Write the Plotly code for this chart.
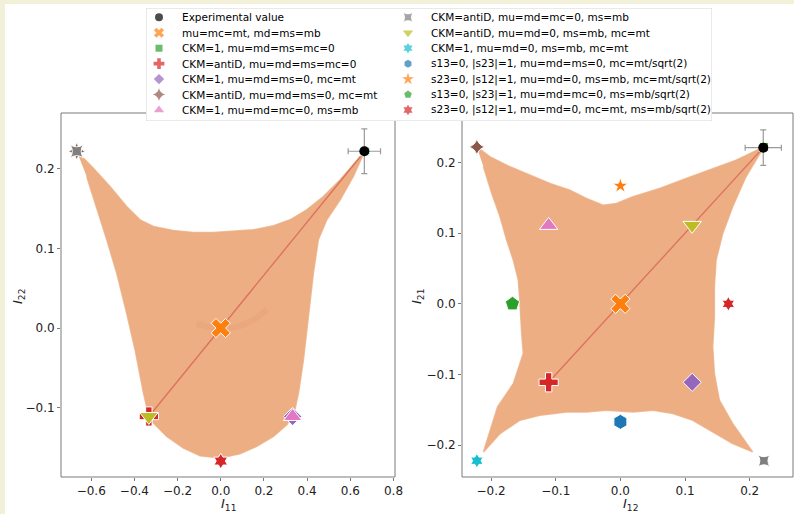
import plotly.graph_objects as go

# ---------------- data ----------------
NAMES = [
    "Experimental value",
    "mu=mc=mt, md=ms=mb",
    "CKM=1, mu=md=ms=mc=0",
    "CKM=antiD, mu=md=ms=mc=0",
    "CKM=1, mu=md=ms=0, mc=mt",
    "CKM=antiD, mu=md=ms=0, mc=mt",
    "CKM=1, mu=md=mc=0, ms=mb",
    "CKM=antiD, mu=md=mc=0, ms=mb",
    "CKM=antiD, mu=md=0, ms=mb, mc=mt",
    "CKM=1, mu=md=0, ms=mb, mc=mt",
    "s13=0, |s23|=1, mu=md=ms=0, mc=mt/sqrt(2)",
    "s23=0, |s12|=1, mu=md=0, ms=mb, mc=mt/sqrt(2)",
    "s13=0, |s23|=1, mu=md=mc=0, ms=mb/sqrt(2)",
    "s23=0, |s12|=1, mu=md=0, mc=mt, ms=mb/sqrt(2)",
]
COLORS = ["#000000", "#ff7f0e", "#2ca02c", "#d62728", "#9467bd", "#8c564b", "#e377c2",
          "#7f7f7f", "#bcbd22", "#17becf", "#1f77b4", "#ff7f0e", "#2ca02c", "#d62728"]
SYMBOLS = ["circle", "x", "square", "cross", "diamond", "star-diamond", "triangle-up",
           "star-square", "triangle-down", "hexagram", "hexagon", "star", "pentagon", "hexagram"]
SIZES_L = [10, 17, 9, 16, 14, 13, 16, 12, 16, 10, 9, 9, 10, 12]
SIZES_R = [10, 17, 9, 16, 14, 12, 16, 11, 16, 11, 15, 12, 15, 11]

# marker positions: left panel (I11, I22), right panel (I12, I21)
I11 = [0.665, 0.0, 0.667, -0.333, 0.333, -0.667, 0.333, -0.667, -0.333, 0.667, 0.0, 0.0, 0.0, 0.0]
I22 = [0.222, 0.0, 0.222, -0.111, -0.111, 0.222, -0.111, 0.222, -0.111, 0.222, -0.167, -0.167, -0.167, -0.167]
I12 = [0.221, 0.0, 0.222, -0.111, 0.111, -0.222, -0.111, 0.222, 0.111, -0.222, 0.0, 0.0, -0.167, 0.167]
I21 = [0.221, 0.0, 0.222, -0.111, -0.111, 0.222, 0.111, -0.222, 0.111, -0.222, -0.167, 0.167, 0.0, 0.0]

EXP_ERR_I11, EXP_ERR_I22 = 0.075, 0.028
EXP_ERR_I12, EXP_ERR_I21 = 0.028, 0.025

# outline of the scanned region (scatter cloud), left panel
CLOUD_L_X = [-0.667, -0.590, -0.513, -0.436, -0.374, -0.312, -0.219, -0.127, -0.034, 0.059, 0.151,
             0.244, 0.321, 0.398, 0.475, 0.553, 0.614, 0.667, 0.614, 0.553, 0.491, 0.452, 0.429,
             0.406, 0.383, 0.360, 0.340, 0.306, 0.244, 0.167, 0.089, -0.003, -0.096, -0.173,
             -0.250, -0.312, -0.335, -0.358, -0.397, -0.436, -0.482, -0.528, -0.575, -0.621]
CLOUD_L_Y = [0.222, 0.2007, 0.1777, 0.1526, 0.1359, 0.1275, 0.1225, 0.1200, 0.1200, 0.1212, 0.1233,
             0.1284, 0.1359, 0.1485, 0.1652, 0.1861, 0.2049, 0.222, 0.1903, 0.161, 0.1359, 0.1108,
             0.069, 0.0146, -0.0397, -0.0816, -0.1067, -0.1214, -0.136, -0.1485, -0.1577, -0.1631,
             -0.1602, -0.1506, -0.136, -0.1192, -0.1088, -0.0816, -0.0272, 0.0188, 0.069, 0.1108,
             0.1526, 0.1903]
# outline of the scanned region, right panel
CLOUD_R_X = [-0.222, -0.2015, -0.1707, -0.1399, -0.109, -0.0782, -0.0525, -0.0268, -0.0062, 0.0195,
             0.0606, 0.1017, 0.1428, 0.1788, 0.222, 0.1942, 0.1737, 0.1583, 0.148, 0.1454, 0.1454,
             0.1428, 0.1454, 0.1531, 0.1737, 0.2045, 0.1737, 0.148, 0.112, 0.0812, 0.0503, 0.0195,
             -0.0216, -0.0525, -0.0833, -0.1244, -0.1553, -0.1861, -0.2118, -0.1900, -0.1656,
             -0.1502, -0.1527, -0.1553, -0.1579, -0.1656, -0.1759, -0.1861, -0.1989, -0.2118]
CLOUD_R_Y = [0.222, 0.208, 0.1939, 0.1821, 0.1703, 0.1609, 0.149, 0.1396, 0.142, 0.1514, 0.1632,
             0.1774, 0.1915, 0.2033, 0.222, 0.1797, 0.1373, 0.0996, 0.0618, 0.0241, -0.0184, -0.0608,
             -0.0986, -0.1364, -0.1694, -0.2095, -0.1977, -0.1836, -0.1647, -0.1553, -0.1505,
             -0.1529, -0.1505, -0.1529, -0.1529, -0.1576, -0.1647, -0.1836, -0.2095, -0.1458,
             -0.1128, -0.0703, -0.042, 0.0005, 0.0335, 0.0618, 0.0901, 0.1231, 0.1561, 0.1939]

# degenerate line of solutions
DIAG_L_X = [-0.333, 0.667]
DIAG_L_Y = [-0.111, 0.222]
DIAG_R_X = [-0.111, 0.222]
DIAG_R_Y = [-0.111, 0.222]
# faint denser arc near the centre of the left panel
ARC_L_X = [-0.111, -0.034, 0.059, 0.151, 0.213]
ARC_L_Y = [0.0054, 0.0008, 0.0008, 0.0104, 0.023]

XTICKS_L = [-0.6, -0.4, -0.2, 0.0, 0.2, 0.4, 0.6, 0.8]
YTICKS_L = [-0.1, 0.0, 0.1, 0.2]
XTICKS_R = [-0.2, -0.1, 0.0, 0.1, 0.2]
YTICKS_R = [-0.2, -0.1, 0.0, 0.1, 0.2]

AXIS_TITLES = ["<i>I</i><sub>11</sub>", "<i>I</i><sub>22</sub>",
               "<i>I</i><sub>12</sub>", "<i>I</i><sub>21</sub>"]

# ---------------- figure ----------------
W, H = 794, 514
FONT = "DejaVu Sans"
CLOUD = "#ecae82"
SPINE = "#7a7a7a"

fig = go.Figure()

for cx, cy, xa, ya in [(CLOUD_L_X, CLOUD_L_Y, "x", "y"), (CLOUD_R_X, CLOUD_R_Y, "x2", "y2")]:
    fig.add_trace(go.Scatter(x=cx, y=cy, fill="toself", fillcolor=CLOUD, mode="lines",
                             line=dict(color="rgba(236,174,130,0.8)", width=1.5),
                             xaxis=xa, yaxis=ya, showlegend=False, hoverinfo="skip"))

fig.add_trace(go.Scatter(x=ARC_L_X, y=ARC_L_Y, mode="lines", line=dict(color="rgba(222,110,90,0.1)", width=6,
                         shape="spline"), xaxis="x", yaxis="y", showlegend=False, hoverinfo="skip"))
for dx, dy, xa, ya in [(DIAG_L_X, DIAG_L_Y, "x", "y"), (DIAG_R_X, DIAG_R_Y, "x2", "y2")]:
    fig.add_trace(go.Scatter(x=dx, y=dy, mode="lines", line=dict(color="rgba(215,85,80,0.7)", width=1.3),
                             xaxis=xa, yaxis=ya, showlegend=False, hoverinfo="skip"))

order = list(range(1, len(NAMES))) + [0]
for i in order:
    for xs, ys, sizes, xa, ya, ex, ey in [(I11, I22, SIZES_L, "x", "y", EXP_ERR_I11, EXP_ERR_I22),
                                          (I12, I21, SIZES_R, "x2", "y2", EXP_ERR_I12, EXP_ERR_I21)]:
        kw = {}
        if i == 0:
            kw = dict(error_x=dict(type="data", array=[ex], color="#9a9a9a", thickness=1.2, width=3),
                      error_y=dict(type="data", array=[ey], color="#9a9a9a", thickness=1.2, width=3))
        fig.add_trace(go.Scatter(
            x=[xs[i]], y=[ys[i]], mode="markers", name=NAMES[i], xaxis=xa, yaxis=ya, showlegend=False,
            marker=dict(symbol=SYMBOLS[i], color=COLORS[i], size=sizes[i],
                        line=dict(color="white", width=0 if i == 0 else 1)),
            **kw))

# ---- legend (two columns, column-major like the original) ----
NROWS = 7
LEG_W, LEG_H = 566, 113
leg_x = [13 if k < NROWS else 262 for k in range(len(NAMES))]
leg_y = [9.3 + 15.45 * (k % NROWS) for k in range(len(NAMES))]
fig.add_trace(go.Scatter(
    x=leg_x, y=leg_y, mode="markers", xaxis="x3", yaxis="y3", showlegend=False, hoverinfo="skip",
    marker=dict(symbol=SYMBOLS, color=COLORS, size=[8, 9, 7, 9, 8, 9, 9, 8, 9, 8, 8, 9, 8, 8],
                line=dict(width=0))))
annotations = []
for k, name in enumerate(NAMES):
    annotations.append(dict(x=leg_x[k] + 21, y=leg_y[k], xref="x3", yref="y3", text=name,
                            showarrow=False, xanchor="left", yanchor="middle",
                            font=dict(family=FONT, size=10.5, color="#000000")))

# axis titles (placed like the original figure)
title_font = dict(family=FONT, size=13, color="#222222")
annotations += [
    dict(text=AXIS_TITLES[0], x=229 / W, y=1 - 504 / H, xref="paper", yref="paper",
         showarrow=False, font=title_font, xanchor="center", yanchor="middle"),
    dict(text=AXIS_TITLES[1], x=18 / W, y=1 - 297 / H, xref="paper", yref="paper",
         showarrow=False, font=title_font, textangle=-90, xanchor="center", yanchor="middle"),
    dict(text=AXIS_TITLES[2], x=630 / W, y=1 - 504 / H, xref="paper", yref="paper",
         showarrow=False, font=title_font, xanchor="center", yanchor="middle"),
    dict(text=AXIS_TITLES[3], x=417 / W, y=1 - 297 / H, xref="paper", yref="paper",
         showarrow=False, font=title_font, textangle=-90, xanchor="center", yanchor="middle"),
]

shapes = [
    dict(type="rect", xref="paper", yref="paper", x0=5 / W, x1=1, y0=0, y1=1 - 4 / H,
         fillcolor="white", line=dict(width=0), layer="below"),
    dict(type="rect", xref="x domain", yref="y domain", x0=0, x1=1, y0=0, y1=1,
         line=dict(color=SPINE, width=1), layer="below"),
    dict(type="rect", xref="x2 domain", yref="y2 domain", x0=0, x1=1, y0=0, y1=1,
         line=dict(color=SPINE, width=1), layer="below"),
    dict(type="rect", xref="x3", yref="y3", x0=2, x1=LEG_W + 2, y0=2, y1=LEG_H + 2,
         fillcolor="#b5b5b5", line=dict(width=0), layer="below"),
    dict(type="rect", xref="x3", yref="y3", x0=0, x1=LEG_W, y0=0, y1=LEG_H,
         fillcolor="white", line=dict(color="#d4d4d4", width=1), layer="below"),
]

axis_common = dict(showgrid=False, zeroline=False, showline=False, ticks="outside", ticklen=3,
                   tickcolor=SPINE, tickwidth=1, tickformat=".1f",
                   tickfont=dict(family=FONT, size=12, color="#222222"))
ydom = [1 - 477 / H, 1 - 113 / H]
fig.update_layout(
    width=W, height=H,
    margin=dict(l=0, r=0, t=0, b=0, autoexpand=False),
    paper_bgcolor="#f2f0d8", plot_bgcolor="rgba(0,0,0,0)",
    font=dict(family=FONT, color="#222222"),
    showlegend=False,
    xaxis=dict(domain=[61 / W, 395 / W], range=[-0.74, 0.807], tickvals=XTICKS_L, anchor="y", **axis_common),
    yaxis=dict(domain=ydom, range=[-0.187, 0.270], tickvals=YTICKS_L, anchor="x", **axis_common),
    xaxis2=dict(domain=[462 / W, 793 / W], range=[-0.245, 0.267], tickvals=XTICKS_R, anchor="y2",
                **axis_common),
    yaxis2=dict(domain=ydom, range=[-0.245, 0.270], tickvals=YTICKS_R, anchor="x2", **axis_common),
    xaxis3=dict(domain=[146 / W, 712 / W], range=[0, LEG_W], visible=False, fixedrange=True),
    yaxis3=dict(domain=[1 - 121 / H, 1 - 8 / H], range=[LEG_H, 0], visible=False, fixedrange=True,
                anchor="x3"),
    shapes=shapes,
    annotations=annotations,
)

fig.write_html("out.html", config={"displayModeBar": False},
               post_script="document.body.style.margin='0';")
